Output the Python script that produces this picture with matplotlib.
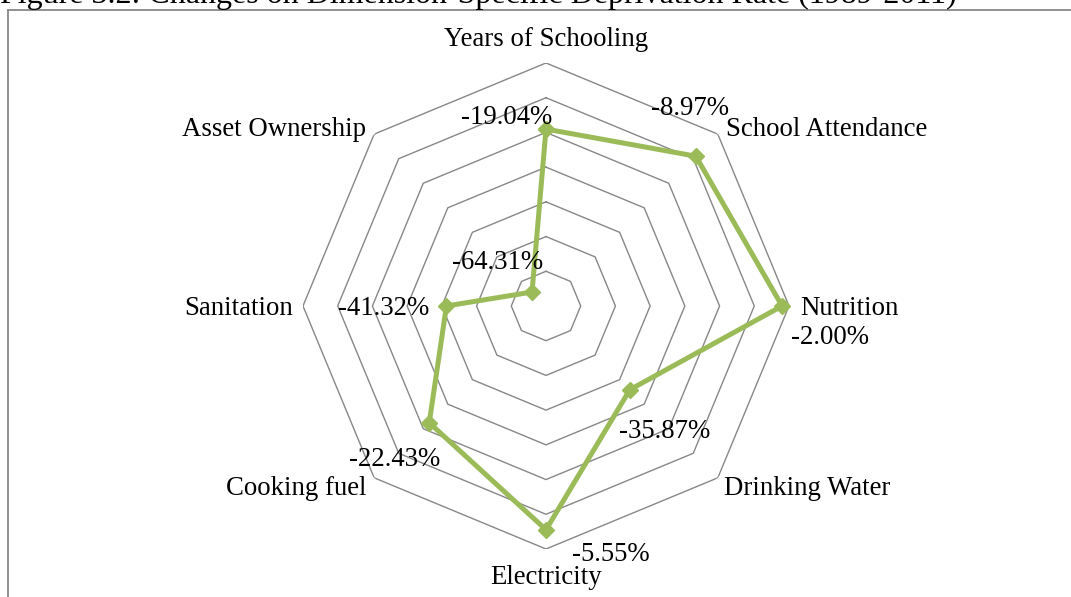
import numpy as np
import matplotlib
matplotlib.use('Agg')
from matplotlib import pyplot as plt
from matplotlib.lines import Line2D

plt.rcParams['font.family'] = ['Liberation Serif', 'DejaVu Serif']

# dimensions, clockwise from the top
dimensions = ['Years of Schooling', 'School Attendance', 'Nutrition', 'Drinking Water',
              'Electricity', 'Cooking fuel', 'Sanitation', 'Asset Ownership']
# change in deprivation rate 1989-2011 (%)
changes = [-19.04, -8.97, -2.00, -35.87, -5.55, -22.43, -41.32, -64.31]
ring_levels = [-60, -50, -40, -30, -20, -10, 0]
r_min, r_max = -70, 0

# label placement: (dx, dy) in pixels, ha, va
dim_offsets = [(0, 23, 'center', 'center'), (8, 5, 'left', 'center'),
               (11, -2.5, 'left', 'center'), (6, -10.5, 'left', 'center'),
               (0, -28, 'center', 'center'), (-8, -10.5, 'right', 'center'),
               (-10, -2.5, 'right', 'center'), (-8, 5, 'right', 'center')]
val_offsets = [(-39, 12), (-6, 48), (48, -32), (35, -42),
               (65, -25), (-35, -37), (-63, -3), (-34, 30)]

grid_color = '#878787'
line_color = '#9BBB59'
fs = 19.3
px = 72 / 100.0

fig = plt.figure(figsize=(10.71, 5.97), dpi=100)
ax = fig.add_axes([0.2829, 0.0804, 0.4538, 0.8141], projection='polar')
ax.set_theta_zero_location('N')
ax.set_theta_direction(-1)
ax.set_rlim(r_min, r_max)
ax.grid(False)
ax.set_xticks([])
ax.set_yticks([])
ax.spines['polar'].set_visible(False)
ax.patch.set_alpha(0)

n = len(dimensions)
theta = np.linspace(0, 2 * np.pi, n, endpoint=False)
theta_c = np.append(theta, theta[0])

# octagonal rings
for lv in ring_levels:
    ax.plot(theta_c, [lv] * (n + 1), color=grid_color, lw=1.0, zorder=1)

vals = np.append(changes, changes[0])
ax.plot(theta_c, vals, color=line_color, lw=3.6, marker='D', ms=8.5,
        mfc=line_color, mec=line_color, zorder=3, clip_on=False)

for i, name in enumerate(dimensions):
    dx, dy, ha, va = dim_offsets[i]
    ax.annotate(name, xy=(theta[i], r_max), xycoords='data',
                xytext=(dx * px, dy * px), textcoords='offset points',
                ha=ha, va=va, fontsize=fs, annotation_clip=False)
    vx, vy = val_offsets[i]
    ax.annotate('%.2f%%' % changes[i], xy=(theta[i], changes[i]), xycoords='data',
                xytext=(vx * px, vy * px), textcoords='offset points',
                ha='center', va='center', fontsize=fs, annotation_clip=False, zorder=4)

# frame around the chart area
fx, fy = 8 / 1071.0, 1 - 10 / 597.0
fig.add_artist(Line2D([fx, fx], [-0.1, fy], transform=fig.transFigure, color='#888888', lw=1.3))
fig.add_artist(Line2D([fx, 1.1], [fy, fy], transform=fig.transFigure, color='#888888', lw=1.3))

fig.text(0.0, 1 - 3 / 597.0, 'Figure 3.2: Changes on Dimension-Specific Deprivation Rate (1989-2011)',
         ha='left', va='baseline', fontsize=23)

fig.savefig('out.png', dpi=100)
